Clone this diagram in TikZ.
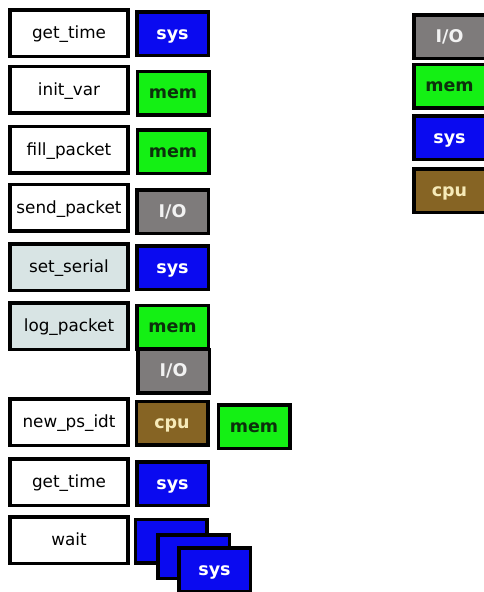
\documentclass[tikz,border=0pt]{standalone}
\usepackage{fontspec}
\setmainfont{DejaVu Sans}
\usetikzlibrary{positioning}

\definecolor{sysblue}{HTML}{0A0AF0}
\definecolor{memgreen}{HTML}{14F014}
\definecolor{iogray}{HTML}{7E7B7B}
\definecolor{cpubrown}{HTML}{866424}
\definecolor{shade}{HTML}{D8E4E4}
\definecolor{memtext}{HTML}{0C300C}
\definecolor{cputext}{HTML}{F6EAB8}

\tikzset{
  fn/.style={draw, line width=3.5pt, fill=white, minimum width=118pt,
    minimum height=46.5pt, inner sep=0pt, text height=13pt, text depth=2pt,
    font=\fontsize{16.8}{18}\selectfont},
  res/.style={draw, line width=3.5pt, minimum width=71.5pt,
    minimum height=43.5pt, inner sep=0pt, text height=13pt, text depth=2pt,
    font=\bfseries\fontsize{17.5}{19}\selectfont},
  sysres/.style={res, fill=sysblue, text=white},
  memres/.style={res, fill=memgreen, text=memtext},
  iores/.style={res, fill=iogray, text=white!90!gray},
  cpures/.style={res, fill=cpubrown, text=cputext}
}

\begin{document}
\begin{tikzpicture}[x=1pt,y=-1pt]
\useasboundingbox (0,0) rectangle (484,592);

% define the function boxes
  \node[fn] (f1) at (69,33)    {get\_time};
  \node[fn] (f2) at (69,89.5)  {init\_var};
  \node[fn] (f3) at (69,149.5) {fill\_packet};
  \node[fn] (f4) at (69,207.5) {send\_packet};
  \node[fn, fill=shade] (f5) at (69,267) {set\_serial};
  \node[fn, fill=shade] (f6) at (69,326) {log\_packet};
  \node[fn] (f7) at (69,422)   {new\_ps\_idt};
  \node[fn] (f8) at (69,482)   {get\_time};
  \node[fn] (f9) at (69,540)   {wait};

% define the resources used by each function
  \node[sysres] (r1) at (172.5,33.5)  {sys};
  \node[memres] (r2) at (173,93)      {mem};
  \node[memres] (r3) at (173,151.5)   {mem};
  \node[iores]  (r4) at (172.5,211.5) {I/O};
  \node[sysres] (r5) at (172.5,267.5) {sys};
  \node[memres] (r6) at (172.5,327)   {mem};
  \node[iores]  (r7) at (173.5,371)   {I/O};
  \node[cpures] (r8) at (172,423)     {cpu};
  \node[memres] (r9) at (254,426.5)   {mem};
  \node[sysres] (r10) at (172.5,483.5) {sys};

% stacked sys boxes of wait
  \node[sysres] (r11) at (171,541)     {};
  \node[sysres] (r12) at (193.5,556.5) {};
  \node[sysres] (r13) at (214.5,569.5) {sys};

% define the legend
  \node[iores]  (l1) at (449.5,36.5)  {I/O};
  \node[memres] (l2) at (449.5,86)    {mem};
  \node[sysres] (l3) at (449.5,137.5) {sys};
  \node[cpures] (l4) at (449.5,190.5) {cpu};

\end{tikzpicture}
\end{document}
